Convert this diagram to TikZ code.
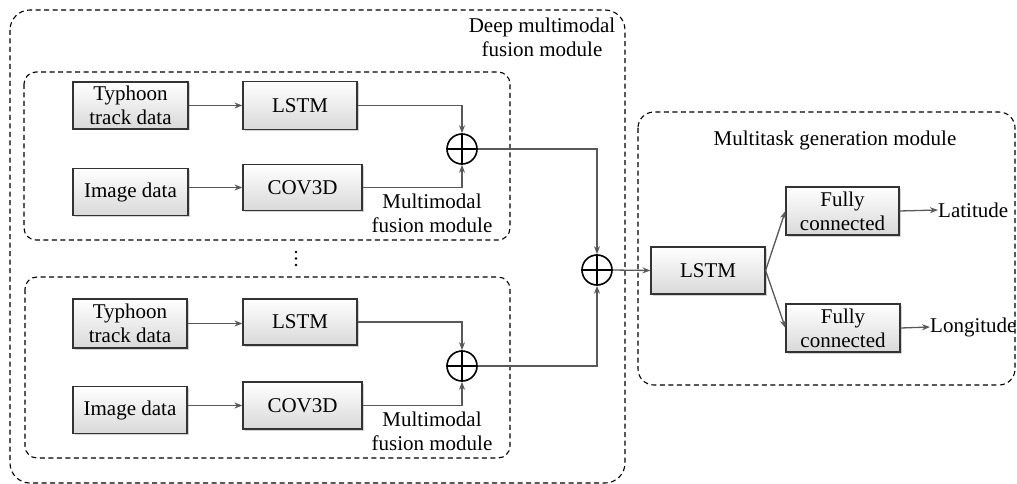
\documentclass[tikz,border=0pt]{standalone}
\usepackage{fontspec}
\setmainfont{Liberation Serif}
\usetikzlibrary{arrows.meta,shadows}
\definecolor{edgegray}{HTML}{333333}
\definecolor{linegray}{HTML}{595959}
\tikzset{
  blk/.style={draw=edgegray, line width=1.2pt, top color=white, bottom color=black!15,
    drop shadow={shadow xshift=1.5pt, shadow yshift=-1.5pt, opacity=0.35, fill=black!50},
    align=center, inner sep=0pt, font=\fontsize{21}{24}\selectfont},
  lbl/.style={align=center, inner sep=0pt, font=\fontsize{21}{24}\selectfont},
  plusnode/.style={circle, draw=black, line width=1.6pt, minimum size=30pt, inner sep=0pt, fill=white},
  region/.style={draw=black, line width=1.1pt, dash pattern=on 5pt off 3.5pt},
  conn/.style={draw=linegray, line width=1.3pt, -{Stealth[length=8pt,width=6pt]}},
  dotmark/.style={circle, fill=black, inner sep=0pt, minimum size=2.6pt},
}
\begin{document}
\begin{tikzpicture}[x=1pt,y=-1pt]
\useasboundingbox (0,0) rectangle (1017,484);
% regions
\draw[region, rounded corners=20pt] (10,10) rectangle (625,483);
\draw[region, rounded corners=12pt] (24,72) rectangle (510,240);
\draw[region, rounded corners=12pt] (25,277) rectangle (510,458);
\draw[region, rounded corners=16pt] (638,112) rectangle (1015,385);
\node[lbl] (deep) at (542,37) {Deep multimodal\\fusion module};
\node[lbl] (mt) at (835,140) {Multitask generation module};
% upper branch
\node[blk, minimum width=115pt, minimum height=47pt] (typ1) at (130.5,105.5) {Typhoon\\track data};
\node[blk, minimum width=114pt, minimum height=48pt] (lstm1) at (300,105.5) {LSTM};
\node[blk, minimum width=115pt, minimum height=47pt] (img1) at (130.5,192) {Image data};
\node[blk, minimum width=119pt, minimum height=46pt] (cov1) at (302.5,187.5) {COV3D};
\node[plusnode] (plus1) at (462,149) {};
\draw[line width=1.6pt] (plus1.north) -- (plus1.south) (plus1.west) -- (plus1.east);
\node[lbl] (mm1) at (432,213) {Multimodal\\fusion module};
% vertical ellipsis between branches
\node[dotmark] (d1) at (296,252) {};
\node[dotmark] (d2) at (296,258.5) {};
\node[dotmark] (d3) at (296,265) {};
% lower branch
\node[blk, minimum width=114pt, minimum height=49pt] (typ2) at (130,323.5) {Typhoon\\track data};
\node[blk, minimum width=114pt, minimum height=46pt] (lstm2) at (300,322) {LSTM};
\node[blk, minimum width=114pt, minimum height=47pt] (img2) at (130,410) {Image data};
\node[blk, minimum width=119pt, minimum height=47pt] (cov2) at (302.5,405.5) {COV3D};
\node[plusnode] (plus2) at (462,366) {};
\draw[line width=1.6pt] (plus2.north) -- (plus2.south) (plus2.west) -- (plus2.east);
\node[lbl] (mm2) at (432,431) {Multimodal\\fusion module};
% right part
\node[plusnode] (plus3) at (597,270) {};
\draw[line width=1.6pt] (plus3.north) -- (plus3.south) (plus3.west) -- (plus3.east);
\node[blk, minimum width=114pt, minimum height=47pt] (lstm3) at (708,270.5) {LSTM};
\node[blk, minimum width=113pt, minimum height=48pt] (fc1) at (842.5,211) {Fully\\connected};
\node[blk, minimum width=114pt, minimum height=48pt] (fc2) at (843,328) {Fully\\connected};
\node[lbl, anchor=west] (lat) at (938,210) {Latitude};
\node[lbl, anchor=west] (lon) at (930,327) {Longitude};
% connectors upper
\draw[conn] (typ1.east) -- (typ1.east -| lstm1.west);
\draw[conn] (img1.east |- cov1.west) -- (cov1.west);
\draw[conn] (lstm1.east) -| (plus1.north);
\draw[conn] (cov1.east) -| (plus1.south);
% connectors lower
\draw[conn] (typ2.east) -- (typ2.east -| lstm2.west);
\draw[conn] (img2.east |- cov2.west) -- (cov2.west);
\draw[conn] (lstm2.east) -| (plus2.north);
\draw[conn] (cov2.east) -| (plus2.south);
% to final fusion
\draw[conn] (plus1.east) -| (plus3.north);
\draw[conn] (plus2.east) -| (plus3.south);
\draw[conn] (plus3.east) -- (lstm3.west);
\draw[conn] (lstm3.east) -- (fc1.west);
\draw[conn] (lstm3.east) -- (fc2.west);
\draw[conn] (fc1.east) -- (lat.west);
\draw[conn] (fc2.east) -- (lon.west);
\end{tikzpicture}
\end{document}
